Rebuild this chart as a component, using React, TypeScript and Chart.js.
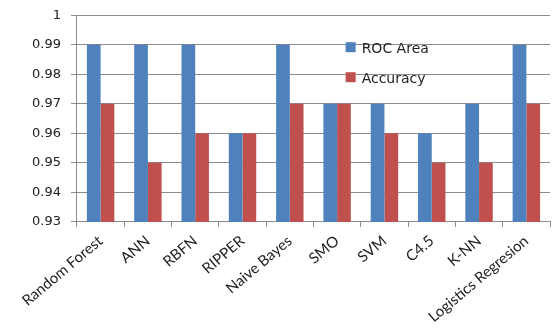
import React, { useEffect, useRef } from "react";
import { Chart, registerables } from "chart.js";

Chart.register(...registerables);

const categories = [
  "Random Forest",
  "ANN",
  "RBFN",
  "RIPPER",
  "Naive Bayes",
  "SMO",
  "SVM",
  "C4.5",
  "K-NN",
  "Logistics Regresion",
];
const rocArea = [0.99, 0.99, 0.99, 0.96, 0.99, 0.97, 0.97, 0.96, 0.97, 0.99];
const accuracy = [0.97, 0.95, 0.96, 0.96, 0.97, 0.97, 0.96, 0.95, 0.95, 0.97];
const seriesNames = ["ROC Area", "Accuracy"];
const seriesColors = ["#4F81BD", "#C0504D"];

// Vertical legend drawn inside the plot area, right of centre
const innerLegend = {
  id: "innerLegend",
  afterDraw(chart: Chart) {
    const { ctx, chartArea } = chart;
    const x0 = chartArea.left + (chartArea.right - chartArea.left) * 0.568;
    const y0 = chartArea.top + 34;
    ctx.save();
    ctx.font = "14px 'DejaVu Sans'";
    ctx.textBaseline = "middle";
    seriesNames.forEach((name, i) => {
      const y = y0 + i * 30;
      ctx.fillStyle = seriesColors[i];
      ctx.fillRect(x0, y - 7, 10, 10);
      ctx.fillStyle = "#222";
      ctx.fillText(name, x0 + 16, y);
    });
    ctx.restore();
  },
};

export default function App() {
  const ref = useRef<HTMLCanvasElement | null>(null);

  useEffect(() => {
    document.body.style.margin = "0";
    if (!ref.current) return;
    const chart = new Chart(ref.current, {
      type: "bar",
      data: {
        labels: categories,
        datasets: [
          { label: seriesNames[0], data: rocArea, backgroundColor: seriesColors[0] },
          { label: seriesNames[1], data: accuracy, backgroundColor: seriesColors[1] },
        ],
      },
      options: {
        animation: false,
        responsive: false,
        layout: { padding: { top: 1, right: 5, left: 22, bottom: 0 } },
        datasets: { bar: { barPercentage: 1, categoryPercentage: 0.58 } },
        plugins: { legend: { display: false }, tooltip: { enabled: false } },
        scales: {
          x: {
            border: { color: "#8c8c8c" },
            grid: {
              offset: true,
              drawOnChartArea: false,
              color: "#8c8c8c",
              tickLength: 5,
            },
            ticks: {
              minRotation: 40,
              maxRotation: 40,
              color: "#222",
              font: { family: "Lato", size: 15 },
              padding: 5,
            },
          },
          y: {
            min: 0.93,
            max: 1,
            border: { color: "#8c8c8c" },
            grid: { color: "#8c8c8c", tickLength: 6 },
            ticks: {
              stepSize: 0.01,
              color: "#222",
              font: { family: "'DejaVu Sans'", size: 13, lineHeight: 0.8 },
              padding: 10,
              callback: (v: any) => String(Number(Number(v).toFixed(2))),
            },
          },
        },
      },
      plugins: [innerLegend],
    });
    return () => chart.destroy();
  }, []);

  return (
    <div style={{ position: "absolute", left: 0, top: 0, width: 555, height: 331, background: "#fff" }}>
      <canvas ref={ref} width={555} height={331} />
    </div>
  );
}
